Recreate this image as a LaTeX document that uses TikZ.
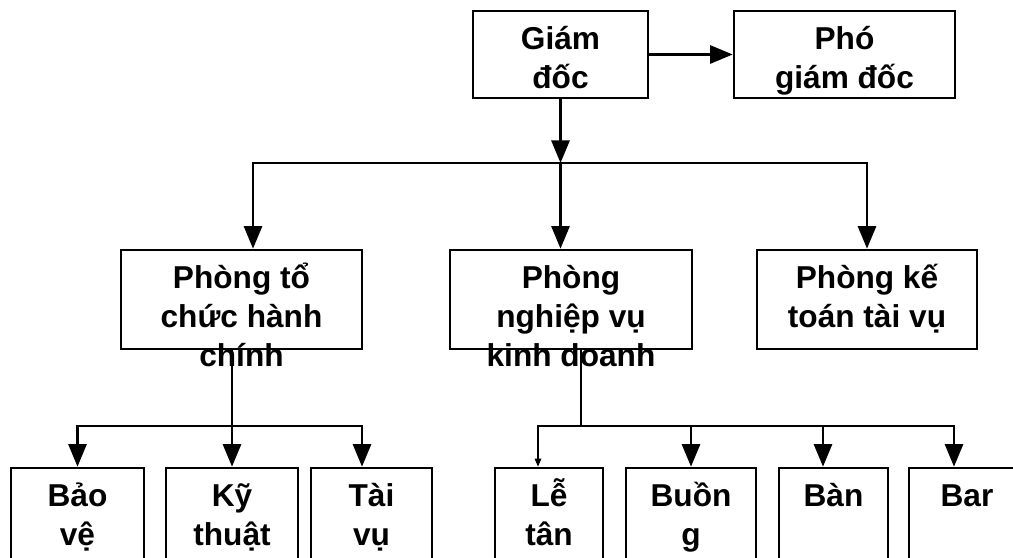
\documentclass[tikz,border=0pt]{standalone}
\usepackage{fontspec}
\setmainfont{Liberation Sans}
\usepackage{tikz}
\usetikzlibrary{arrows.meta,positioning,calc}
\newcommand{\tp}{\rule{0pt}{1.05em}}

\begin{document}
\begin{tikzpicture}[
  line width=1.5pt,
  box/.style={draw, line width=1.5pt, minimum height=1.74cm, inner sep=0pt},
  lbl/.style={anchor=north, align=center, inner sep=0pt, yshift=-0.115cm,
    font=\fontsize{18}{22}\selectfont\bfseries},
  arr/.style={-{Triangle[length=0.45cm,width=0.36cm]}},
  smallarr/.style={line width=0.8pt, -{Triangle[length=0.16cm,width=0.13cm]}}]
  \clip (0,0) rectangle (20.26,11.14);
  % Top level
  \node[box, minimum width=3.5cm, label={[lbl]north:{\tp Giám\\đốc}}] (gd) at (11.21,10.05) {};
  \node[box, minimum width=4.42cm, label={[lbl]north:{\tp Phó\\giám đốc}}] (pgd) at (16.89,10.05) {};
  % Departments
  \node[box, minimum width=4.82cm, minimum height=1.98cm,
    label={[lbl]north:{\tp Phòng tổ\\chức hành\\chính}}] (tcch) at (4.83,5.15) {};
  \node[box, minimum width=4.84cm, minimum height=1.98cm,
    label={[lbl]north:{\tp Phòng\\nghiệp vụ\\kinh doanh}}] (nvkd) at (11.42,5.15) {};
  \node[box, minimum width=4.4cm, minimum height=1.98cm,
    label={[lbl]north:{\tp Phòng kế\\toán tài vụ}}] (ktt) at (17.34,5.15) {};
  % Sections (cut by the page edge)
  \node[box, minimum width=2.66cm, minimum height=2cm, label={[lbl]north:{\tp Bảo\\vệ}}] (bv) at (1.55,0.78) {};
  \node[box, minimum width=2.64cm, minimum height=2cm, label={[lbl]north:{\tp Kỹ\\thuật}}] (kt) at (4.64,0.78) {};
  \node[box, minimum width=2.42cm, minimum height=2cm, label={[lbl]north:{\tp Tài\\vụ}}] (tv) at (7.43,0.78) {};
  \node[box, minimum width=2.16cm, minimum height=2cm, label={[lbl]north:{\tp Lễ\\tân}}] (lt) at (10.98,0.78) {};
  \node[box, minimum width=2.6cm, minimum height=2cm, label={[lbl]north:{\tp Buồn\\g}}] (bg) at (13.82,0.78) {};
  \node[box, minimum width=2.18cm, minimum height=2cm, label={[lbl]north:{\tp Bàn}}] (ban) at (16.67,0.78) {};
  \node[box, minimum width=2.32cm, minimum height=2cm, label={[lbl]north:{\tp Bar}}] (bar) at (19.34,0.78) {};
  % Bus points
  \coordinate (b1) at (gd.south |- 0,7.88);
  \coordinate (b2) at (kt.north |- 0,2.62);
  \coordinate (b3) at (11.62,2.62);
  % Connectors
  \draw[arr] (gd) -- (pgd);
  \draw[arr] (gd.south) -- (b1);
  \draw[arr] (b1) -| ([xshift=0.23cm]tcch.north);
  \draw[arr] (b1) -- (b1 |- nvkd.north);
  \draw[arr] (b1) -| (ktt.north);
  \draw[arr] (tcch.south -| kt.north) -- (kt.north);
  \draw[arr] (b2) -| (bv.north);
  \draw[arr] (b2) -| ([xshift=-0.19cm]tv.north);
  \draw (nvkd.south -| b3) -- (b3);
  \draw[smallarr] (b3) -| ([xshift=-0.22cm]lt.north);
  \draw[arr] (b3) -| (bg.north);
  \draw[arr] (b3) -| ([xshift=-0.21cm]ban.north);
  \draw[arr] (b3) -| ([xshift=-0.26cm]bar.north);
\end{tikzpicture}
\end{document}
